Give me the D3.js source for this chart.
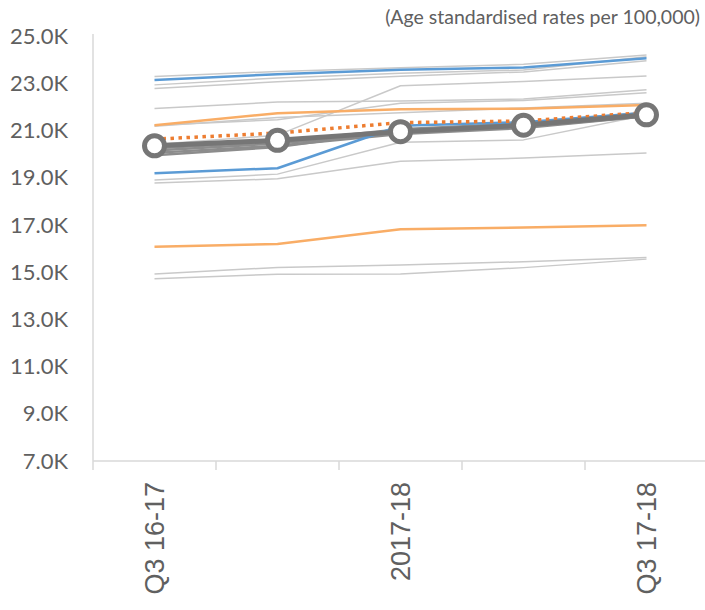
<!DOCTYPE html>
<html>
<head>
<meta charset="utf-8">
<script src="https://cdn.jsdelivr.net/npm/d3@7"></script>
<style>
  body { margin: 0; background: #fff; }
  svg { display: block; }
</style>
</head>
<body>
<svg id="chart" width="705" height="610"></svg>
<script>
// ---- data ----
const categories = ["Q3 16-17", "Q4 16-17", "2017-18", "Q2 17-18", "Q3 17-18"];
const tickLabels = ["Q3 16-17", "", "2017-18", "", "Q3 17-18"];
const yTicks = [7000, 9000, 11000, 13000, 15000, 17000, 19000, 21000, 23000, 25000];

// peer areas (light grey)
const peerLight = [
  [23280, 23500, 23660, 23800, 24200],
  [22930, 23220, 23420, 23560, 24120],
  [22780, 23060, 23300, 23480, 23950],
  [20400, 20800, 22890, 23070, 23310],
  [21930, 22200, 22250, 22330, 22720],
  [21220, 21450, 22150, 22270, 22600],
  [21180, 21550, 21750, 21950, 22150],
  [18900, 19150, 20500, 20600, 21650],
  [18770, 18950, 19700, 19830, 20040],
  [14920, 15200, 15300, 15440, 15620],
  [14720, 14910, 14920, 15190, 15550]
];
// peer areas (mid grey, clustered round the selected area)
const peerMid = [
  [20150, 20450, 20900, 21150, 21600],
  [20050, 20350, 20850, 21100, 21600],
  [19950, 20300, 21000, 21250, 21700],
  [20250, 20520, 21050, 21300, 21750]
];
const blueA = [23140, 23380, 23570, 23670, 24060];
const blueB = [19190, 19400, 21200, 21350, 21750];
const orangeA = [21220, 21730, 21900, 21920, 22080];
const orangeB = [16070, 16190, 16820, 16890, 16980];
const dotted = [20630, 20890, 21330, 21400, 21760];
const selected = [20350, 20580, 20950, 21220, 21660];

// ---- chart ----
const svg = d3.select("#chart");
const x = d3.scaleBand().domain(categories).range([93, 708]);
const y = d3.scaleLinear().domain([7000, 25000]).range([461, 36]);
const cx = c => x(c) + x.bandwidth() / 2;

const line = d3.line()
  .x((d, i) => cx(categories[i]))
  .y(d => y(d));

// title
svg.append("text")
  .attr("x", 700).attr("y", 24)
  .attr("text-anchor", "end")
  .attr("font-family", "Lato, 'Open Sans', sans-serif")
  .attr("font-size", 19.5)
  .attr("fill", "#606060")
  .text("(Age standardised rates per 100,000)");

// y axis
const yAxis = svg.append("g");
yAxis.append("line")
  .attr("x1", 93).attr("x2", 93)
  .attr("y1", 34).attr("y2", y(7000))
  .attr("stroke", "#d9d9d9").attr("stroke-width", 1.5);
yAxis.selectAll("text").data(yTicks).join("text")
  .attr("x", 68).attr("y", d => y(d))
  .attr("dy", "0.35em")
  .attr("text-anchor", "end")
  .attr("font-family", "Lato, 'Open Sans', sans-serif")
  .attr("font-size", 22)
  .attr("fill", "#606060")
  .text(d => (d / 1000).toFixed(1) + "K");

// x axis
const xAxis = svg.append("g");
xAxis.append("line")
  .attr("x1", 93).attr("x2", 705)
  .attr("y1", y(7000)).attr("y2", y(7000))
  .attr("stroke", "#d9d9d9").attr("stroke-width", 1.5);
const boundaries = categories.map(c => x(c)).concat([x.range()[1]]);
xAxis.selectAll("line.tick").data(boundaries).join("line")
  .attr("class", "tick")
  .attr("x1", d => d).attr("x2", d => d)
  .attr("y1", y(7000)).attr("y2", y(7000) + 9)
  .attr("stroke", "#d9d9d9").attr("stroke-width", 1.5);
xAxis.selectAll("text").data(categories).join("text")
  .attr("transform", d => `translate(${cx(d)},482) rotate(-90)`)
  .attr("dy", "0.36em")
  .attr("text-anchor", "end")
  .attr("font-family", "'Liberation Sans', Arial, sans-serif")
  .attr("font-size", 27)
  .attr("fill", "#606060")
  .text((d, i) => tickLabels[i]);

// lines
const g = svg.append("g").attr("fill", "none").attr("stroke-linejoin", "round");
g.selectAll("path.light").data(peerLight).join("path")
  .attr("class", "light")
  .attr("d", line)
  .attr("stroke", "#c9c9c9").attr("stroke-width", 1.5);
g.selectAll("path.mid").data(peerMid).join("path")
  .attr("class", "mid")
  .attr("d", line)
  .attr("stroke", "#8c8c8c").attr("stroke-width", 2.5);
[[blueA, "#5b9bd5"], [blueB, "#5b9bd5"], [orangeA, "#f9ad66"], [orangeB, "#f9ad66"]].forEach(([data, col]) => {
  g.append("path").datum(data)
    .attr("d", line)
    .attr("stroke", col).attr("stroke-width", 2.5);
});
g.append("path").datum(dotted)
  .attr("d", line)
  .attr("stroke", "#ed7d31").attr("stroke-width", 3.5)
  .attr("stroke-dasharray", "3.5,4.5");
g.append("path").datum(selected)
  .attr("d", line)
  .attr("stroke", "#767676").attr("stroke-width", 5);
svg.append("g").selectAll("circle").data(selected).join("circle")
  .attr("cx", (d, i) => cx(categories[i]))
  .attr("cy", d => y(d))
  .attr("r", 10)
  .attr("fill", "#fff")
  .attr("stroke", "#767676")
  .attr("stroke-width", 5);
</script>
</body>
</html>
